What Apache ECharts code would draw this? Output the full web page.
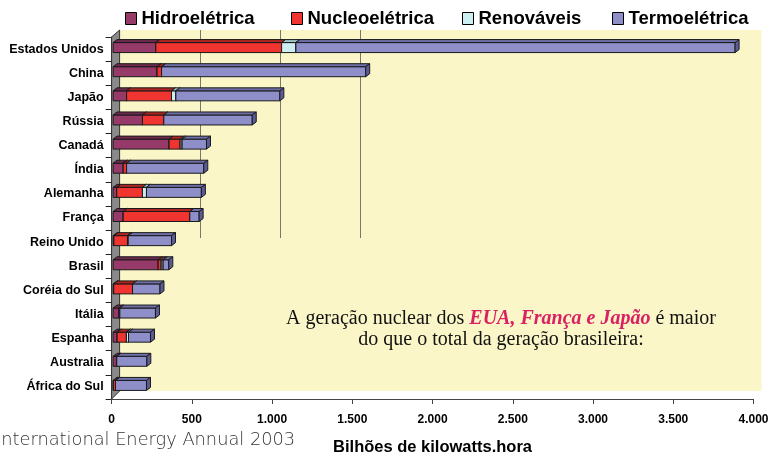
<!DOCTYPE html>
<html>
<head>
	<meta http-equiv="Content-Type" content="text/html; charset=UTF-8">
	<title>Geração de eletricidade</title>
	<script type="text/javascript" src="https://cdn.jsdelivr.net/npm/echarts@6/dist/echarts.min.js"></script>
	<style>
		body { margin: 0; background: #fff; }
		#show { width: 769px; height: 455px; }
	</style>
</head>
<body>
<div id="show"></div>

<script type="text/javascript">
	// bilhões de kWh
	var paises = ['Estados Unidos', 'China', 'Japão', 'Rússia', 'Canadá', 'Índia', 'Alemanha', 'França',
		'Reino Unido', 'Brasil', 'Coréia do Sul', 'Itália', 'Espanha', 'Australia', 'África do Sul'];
	var hidro   = [266, 274,  84, 183, 349,  63,  23,  63,   5, 281,   4,  37,  25,  21,   2];
	var nuclear = [784,  28, 280, 133,  69,  21, 160, 415,  85,  19, 117,   0,  58,   0,  13];
	var renov   = [ 89,   0,  27,   0,  12,   0,  25,   0,   4,  12,   0,   5,  13,   2,   0];
	var termo   = [2737, 1272, 648, 551, 152, 481, 342, 58, 270,  35, 171, 222, 137, 187, 193];
	var ticksX  = [0, 500, 1000, 1500, 2000, 2500, 3000, 3500, 4000];

	var nomes = ['Hidroelétrica', 'Nucleoelétrica', 'Renováveis', 'Termoelétrica'];
	var cores = ['#963A6A', '#F03530', '#CDEFF2', '#8E8FC9'];
	var topo  = ['#6E2A4E', '#B02420', '#9CC5C8', '#6E6FA8'];
	var lado  = ['#5A2240', '#8E1C18', '#86AEB2', '#5B5C95'];
	var legendaX = [125, 291, 462, 612];

	var myChart = echarts.init(document.getElementById('show'));

	function milhar(v) {
		return String(v).replace(/\B(?=(\d{3})+(?!\d))/g, '.');
	}

	// empilha: [inicio, fim, indice do pais]
	var grupos = [hidro, nuclear, renov, termo];
	var acum = paises.map(function () { return 0; });
	var dados = grupos.map(function (arr) {
		return arr.map(function (v, i) {
			var s = acum[i];
			acum[i] += v;
			return [s, s + v, i];
		});
	});

	function barra3d(k) {
		return function (params, api) {
			var s = api.value(0), e = api.value(1), c = api.value(2);
			if (e <= s) return;
			var a = api.coord([s, c]), b = api.coord([e, c]);
			var x0 = a[0] + 1.5, x1 = b[0] + 1.5;
			var yc = a[1] - 1.5, h = 10, dx = 4, dy = 3;
			var yt = yc - h / 2, yb = yc + h / 2;
			var borda = { stroke: '#1a1a1a', lineWidth: 1 };
			return {
				type: 'group',
				children: [
					{ type: 'rect', shape: { x: x0, y: yt, width: x1 - x0, height: h },
						style: Object.assign({ fill: cores[k] }, borda) },
					{ type: 'polygon', shape: { points: [[x0, yt], [x0 + dx, yt - dy], [x1 + dx, yt - dy], [x1, yt]] },
						style: Object.assign({ fill: topo[k] }, borda) },
					{ type: 'polygon', shape: { points: [[x1, yt], [x1 + dx, yt - dy], [x1 + dx, yb - dy], [x1, yb]] },
						style: Object.assign({ fill: lado[k] }, borda) }
				]
			};
		};
	}

	var coresGrade = ticksX.map(function (t) {
		return (t > 0 && t <= 1500) ? '#77776a' : 'rgba(0,0,0,0)';
	});

	var option = {
		animation: false,
		backgroundColor: '#fff',
		legend: nomes.map(function (nome, k) {
			return {
				data: [nome],
				left: legendaX[k],
				top: 9,
				padding: 0,
				icon: 'rect',
				itemWidth: 11,
				itemHeight: 12,
				itemStyle: { borderColor: '#000', borderWidth: 1 },
				textStyle: { fontFamily: 'Liberation Sans, Arial', fontWeight: 'bold', fontSize: 18.5, color: '#000' }
			};
		}),
		grid: [
			{ left: 111.6, right: 15.5, top: 37, bottom: 56, outerBoundsMode: 'none', containLabel: false },
			{ left: 119.6, right: 7.5, top: 30, bottom: 64, show: true, backgroundColor: '#FAF6C8', borderWidth: 0, z: 0, outerBoundsMode: 'none' },
			{ left: 119.6, right: 7.5, top: 30, bottom: 217, outerBoundsMode: 'none' }
		],
		xAxis: [
			{
				gridIndex: 0, type: 'value', min: 0, max: 4000, interval: 500,
				name: 'Bilhões de kilowatts.hora', nameLocation: 'middle', nameGap: 40,
				nameTextStyle: { fontFamily: 'Liberation Sans, Arial', fontWeight: 'bold', fontSize: 16.5, color: '#000' },
				axisLine: { show: true, lineStyle: { color: '#444' } },
				axisTick: { show: true, length: 5, lineStyle: { color: '#444' } },
				axisLabel: { formatter: milhar, margin: 15, fontFamily: 'Liberation Sans, Arial', fontWeight: 'bold', fontSize: 12, color: '#000' },
				splitLine: { show: false }
			},
			{ gridIndex: 1, type: 'value', min: 0, max: 4000, show: false },
			{
				gridIndex: 2, type: 'value', min: 0, max: 4000, interval: 500, z: 1,
				axisLine: { show: false }, axisTick: { show: false }, axisLabel: { show: false },
				splitLine: { show: true, showMinLine: true, showMaxLine: true, lineStyle: { color: coresGrade, width: 1 } }
			}
		],
		yAxis: [
			{
				gridIndex: 0, type: 'category', data: paises, inverse: true,
				axisLine: { show: true, lineStyle: { color: '#222' } },
				axisTick: { show: true, length: 6, lineStyle: { color: '#222' } },
				axisLabel: { margin: 8, fontFamily: 'Liberation Sans, Arial', fontWeight: 'bold', fontSize: 12.5, color: '#000' }
			},
			{ gridIndex: 1, type: 'value', show: false },
			{ gridIndex: 2, type: 'value', show: false }
		],
		graphic: [
			{
				type: 'polygon', z: 1,
				shape: { points: [[111.6, 37], [119.6, 30], [119.6, 391], [111.6, 399]] },
				style: { fill: '#8a8a8a', stroke: '#333', lineWidth: 1 }
			},
			{
				type: 'text', z: 5, left: -4, top: 431,
				style: { text: 'International Energy Annual 2003', font: '200 17.8px "DejaVu Sans"', fill: '#333' }
			},
			{
				type: 'text', z: 5, x: 501, y: 308,
				style: {
					text: '{n|A geração nuclear dos }{h|EUA, França e Japão}{n| é maior}\n{n|do que o total da geração brasileira:}',
					align: 'center',
					rich: {
						n: { fontFamily: 'Liberation Serif', fontSize: 20, fill: '#111', lineHeight: 21 },
						h: { fontFamily: 'Liberation Serif', fontSize: 20, fontWeight: 'bold', fontStyle: 'italic', fill: '#DA2062', lineHeight: 21 }
					}
				}
			}
		],
		series: nomes.map(function (nome, k) {
			return {
				name: nome,
				type: 'custom',
				xAxisIndex: 0,
				yAxisIndex: 0,
				z: 2,
				itemStyle: { color: cores[k], borderColor: '#000', borderWidth: 1 },
				encode: { x: [0, 1], y: 2 },
				renderItem: barra3d(k),
				data: dados[k]
			};
		})
	};

	myChart.setOption(option);
</script>
</body>
</html>
